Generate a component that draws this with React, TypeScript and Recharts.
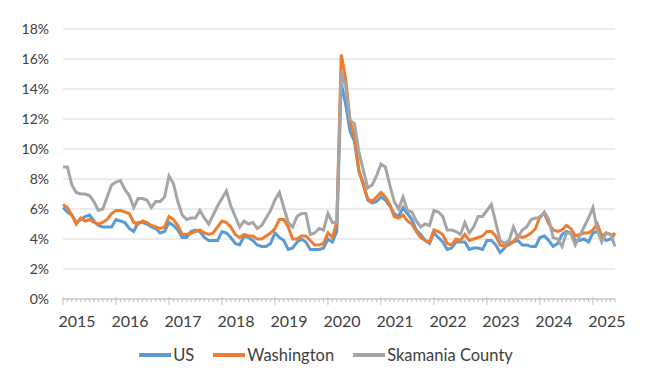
import React from "react";
import { LineChart, Line, XAxis, YAxis, CartesianGrid, Legend } from "recharts";

// Monthly unemployment rates (%), Jan 2015 - Jun 2025, not seasonally adjusted
const years = ["2015", "2016", "2017", "2018", "2019", "2020", "2021", "2022", "2023", "2024", "2025"];
const monthNames = ["Jan", "Feb", "Mar", "Apr", "May", "Jun", "Jul", "Aug", "Sep", "Oct", "Nov", "Dec"];
const monthsInLastYear = 6;

const months = years.flatMap((y, i) =>
  (i === years.length - 1 ? monthNames.slice(0, monthsInLastYear) : monthNames).map((m) => `${m} ${y}`)
);

const us = [
  6.1, 5.8, 5.6, 5.1, 5.3, 5.5, 5.6, 5.2, 4.9, 4.8, 4.8, 4.8,
  5.3, 5.2, 5.1, 4.7, 4.5, 5.1, 5.1, 5.0, 4.8, 4.7, 4.4, 4.5,
  5.1, 4.9, 4.6, 4.1, 4.1, 4.5, 4.6, 4.5, 4.1, 3.9, 3.9, 3.9,
  4.5, 4.4, 4.1, 3.7, 3.6, 4.2, 4.1, 3.9, 3.6, 3.5, 3.5, 3.7,
  4.4, 4.1, 3.9, 3.3, 3.4, 3.8, 4.0, 3.8, 3.3, 3.3, 3.3, 3.4,
  4.0, 3.8, 4.5, 14.4, 13.0, 11.2, 10.5, 8.5, 7.7, 6.6, 6.4, 6.5,
  6.8, 6.6, 6.2, 5.7, 5.5, 6.1, 5.7, 5.3, 4.6, 4.3, 3.9, 3.7,
  4.4, 4.1, 3.8, 3.3, 3.4, 3.8, 3.8, 3.8, 3.3, 3.4, 3.4, 3.3,
  3.9, 3.9, 3.6, 3.1, 3.4, 3.8, 3.8, 3.9, 3.6, 3.6, 3.5, 3.5,
  4.1, 4.2, 3.9, 3.5, 3.7, 4.3, 4.5, 4.4, 3.9, 3.9, 4.0, 3.8,
  4.4, 4.5, 4.2, 3.9, 4.0, 4.4,
];

const washington = [
  6.3, 6.1, 5.6, 5.0, 5.4, 5.2, 5.3, 5.1, 5.0, 5.1, 5.3, 5.7,
  5.9, 5.9, 5.8, 5.7, 5.1, 5.0, 5.2, 5.1, 4.9, 4.8, 4.7, 4.8,
  5.5, 5.3, 4.9, 4.3, 4.3, 4.4, 4.5, 4.6, 4.4, 4.3, 4.4, 4.8,
  5.2, 5.1, 4.8, 4.3, 4.1, 4.3, 4.2, 4.2, 4.0, 4.0, 4.2, 4.4,
  4.7, 5.3, 5.3, 4.8, 4.0, 4.0, 4.2, 4.2, 3.9, 3.6, 3.6, 3.7,
  4.4, 4.1, 5.1, 16.3, 14.7, 11.9, 10.8, 8.6, 7.6, 6.7, 6.5, 6.8,
  7.1, 6.8, 6.3, 5.5, 5.4, 5.6, 5.2, 5.0, 4.5, 4.1, 3.9, 3.8,
  4.6, 4.5, 4.3, 3.7, 3.6, 4.0, 3.9, 4.3, 3.9, 4.0, 4.1, 4.2,
  4.5, 4.5, 4.2, 3.6, 3.5, 3.6, 3.8, 4.2, 4.1, 4.2, 4.4, 4.7,
  5.5, 5.7, 5.0, 4.6, 4.5, 4.6, 4.9, 4.7, 4.2, 4.3, 4.4, 4.4,
  4.6, 5.0, 4.2, 4.4, 4.3, 4.2,
];

const skamania = [
  8.8, 8.8, 7.6, 7.1, 7.0, 7.0, 6.9, 6.5, 5.9, 6.0, 6.8, 7.6,
  7.8, 7.9, 7.3, 6.9, 6.1, 6.7, 6.7, 6.6, 6.1, 6.5, 6.5, 6.8,
  8.2, 7.7, 6.5, 5.6, 5.3, 5.4, 5.4, 5.9, 5.4, 5.0, 5.6, 6.2,
  6.7, 7.2, 6.2, 5.5, 4.8, 5.2, 5.0, 5.1, 4.7, 4.9, 5.4, 5.9,
  6.6, 7.1, 6.1, 5.1, 4.8, 5.5, 5.7, 5.7, 4.3, 4.4, 4.7, 4.6,
  5.7, 5.1, 5.1, 15.1, 14.2, 11.9, 11.7, 9.8, 8.6, 7.4, 7.6, 8.2,
  9.0, 8.8, 7.6, 6.5, 6.0, 6.8, 5.9, 5.8, 5.2, 4.8, 5.0, 4.9,
  5.9, 5.8, 5.5, 4.6, 4.6, 4.5, 4.3, 5.1, 4.4, 4.8, 5.5, 5.5,
  5.9, 6.3, 5.1, 3.9, 3.7, 3.9, 4.8, 4.1, 4.6, 4.8, 5.3, 5.4,
  5.4, 5.8, 5.3, 4.1, 4.0, 3.5, 4.4, 4.4, 3.6, 4.2, 4.8, 5.4,
  6.1, 4.6, 3.8, 4.4, 4.3, 3.5,
];

const yTicks = [0, 2, 4, 6, 8, 10, 12, 14, 16, 18];

const seriesInfo = [
  { key: "us", name: "US", color: "#5B9BD5" },
  { key: "washington", name: "Washington", color: "#ED7D31" },
  { key: "skamania", name: "Skamania County", color: "#A5A5A5" },
];

const chartData = months.map((m, i) => ({
  month: m,
  us: us[i],
  washington: washington[i],
  skamania: skamania[i],
}));

const FONT = "Lato, 'Open Sans', sans-serif";
const TEXT = "#404040";
const AXIS = "#BFBFBF";

function MonthTick(props: any) {
  const { x, y, payload } = props;
  const [m, yr] = String(payload.value).split(" ");
  const isJan = m === "Jan";
  return (
    <g>
      <line x1={x} x2={x} y1={isJan ? y - 2 : y} y2={isJan ? y + 6 : y + 3} stroke={AXIS} strokeWidth={1} />
      {isJan && (
        <text x={x + 14} y={y + 27.5} textAnchor="middle" fill={TEXT} fontSize={16} fontFamily={FONT}>
          {yr}
        </text>
      )}
    </g>
  );
}

function LegendContent() {
  return (
    <div
      style={{
        display: "flex",
        justifyContent: "center",
        alignItems: "center",
        height: 24,
        fontFamily: FONT,
        fontSize: 16.5,
        color: TEXT,
        paddingLeft: 2,
      }}
    >
      {seriesInfo.map((s, i) => (
        <div key={s.key} style={{ display: "flex", alignItems: "center", marginLeft: i === 0 ? 0 : 19 }}>
          <span style={{ display: "inline-block", width: 32, height: 4, background: s.color, marginRight: 2 }} />
          <span>{s.name}</span>
        </div>
      ))}
    </div>
  );
}

export default function App() {
  return (
    <div style={{ width: 650, height: 378, background: "#fff" }}>
      <style>{"body{margin:0}"}</style>
      <LineChart width={650} height={378} data={chartData} margin={{ top: 29, right: 35, bottom: 11, left: 0 }}>
        <CartesianGrid vertical={false} stroke="#D9D9D9" strokeWidth={1} />
        <XAxis
          dataKey="month"
          interval={0}
          tickLine={false}
          tickSize={0}
          tickMargin={0}
          height={44}
          axisLine={{ stroke: AXIS, strokeWidth: 1 }}
          tick={<MonthTick />}
        />
        <YAxis
          domain={[0, 18]}
          ticks={yTicks}
          width={63}
          axisLine={false}
          tickLine={false}
          tickSize={0}
          tickMargin={14}
          tickFormatter={(v: number) => `${v}%`}
          tick={{ fill: TEXT, fontSize: 14, fontFamily: FONT }}
        />
        <Legend verticalAlign="bottom" content={<LegendContent />} wrapperStyle={{ left: 0, width: 650 }} />
        {seriesInfo.map((s) => (
          <Line
            key={s.key}
            type="linear"
            dataKey={s.key}
            name={s.name}
            stroke={s.color}
            strokeWidth={3}
            dot={false}
            isAnimationActive={false}
          />
        ))}
      </LineChart>
    </div>
  );
}
